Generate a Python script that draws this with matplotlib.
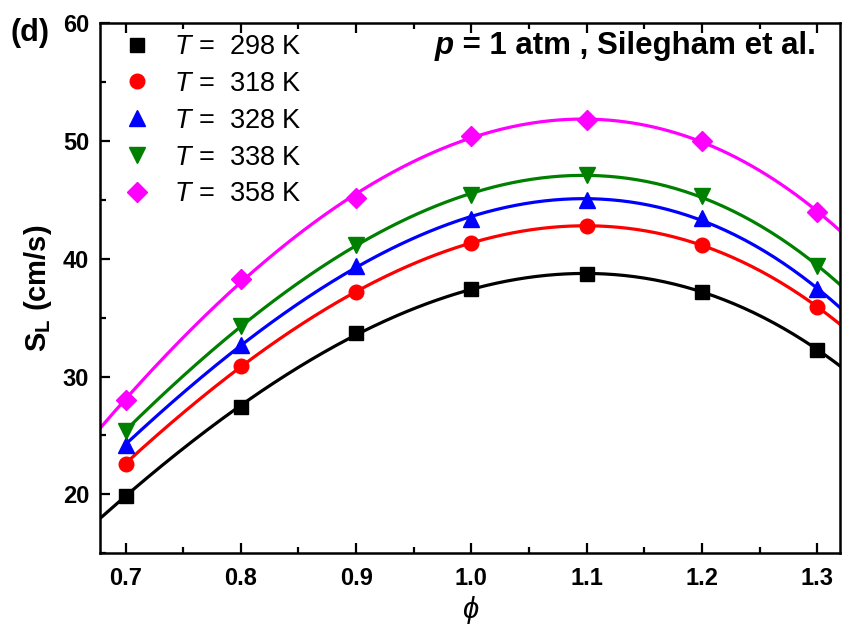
import numpy as np
import matplotlib

matplotlib.use("Agg")
import matplotlib.pyplot as plt
from matplotlib.ticker import MultipleLocator

plt.rcParams["font.family"] = ["Liberation Sans", "DejaVu Sans"]
plt.rcParams["mathtext.fontset"] = "custom"
plt.rcParams["mathtext.rm"] = "Liberation Sans"
plt.rcParams["mathtext.it"] = "Liberation Sans:italic"
plt.rcParams["mathtext.bf"] = "Liberation Sans:bold"

phi = [0.7, 0.8, 0.9, 1.0, 1.1, 1.2, 1.3]
temps = [298, 318, 328, 338, 358]
sl_298 = [19.9, 27.4, 33.7, 37.4, 38.7, 37.2, 32.3]
sl_318 = [22.6, 30.9, 37.2, 41.3, 42.8, 41.2, 35.9]
sl_328 = [24.2, 32.7, 39.4, 43.4, 45.0, 43.5, 37.4]
sl_338 = [25.4, 34.3, 41.2, 45.4, 47.1, 45.3, 39.4]
sl_358 = [28.0, 38.3, 45.2, 50.4, 51.8, 50.0, 44.0]
series = [sl_298, sl_318, sl_328, sl_338, sl_358]
# left end of each fitted line (some fits start at the first point)
fit_start = [0.678, 0.7, 0.7, 0.7, 0.678]

colors = ["black", "#ff0000", "#0000ff", "#008000", "#ff00ff"]
markers = ["s", "o", "^", "v", "D"]
msizes = [9.5, 10.5, 11.5, 11.5, 10.5]

xmin, xmax = 0.678, 1.32

fig = plt.figure(figsize=(8.42, 6.28), dpi=100)
ax = fig.add_axes([0.119, 0.119, 0.879, 0.844])

for t, vals, x0, c, m, ms in zip(temps, series, fit_start, colors, markers, msizes):
    coef = np.polyfit(phi, vals, 3)
    x_fit = np.linspace(x0, xmax, 300)
    ax.plot(x_fit, np.polyval(coef, x_fit), color=c, lw=2.3, zorder=2)
    ax.plot(phi, vals, ls="none", marker=m, ms=ms, color=c, mec=c,
            label=f"$T$ =  {t} K", zorder=3)

ax.set_xlim(xmin, xmax)
ax.set_ylim(15, 60)
ax.xaxis.set_minor_locator(MultipleLocator(0.05))
ax.yaxis.set_minor_locator(MultipleLocator(5))
ax.set_yticks([20, 30, 40, 50, 60])
ax.set_xticks(phi)
ax.set_xticklabels(["0.7", "0.8", "0.9", "1.0", "1.1", "1.2", "1.3"])

ax.tick_params(which="both", direction="in", top=True, right=False, width=1.6)
ax.tick_params(which="major", length=7, labelsize=17)
ax.tick_params(axis="x", which="major", pad=10)
ax.tick_params(axis="y", which="major", pad=8)
ax.tick_params(which="minor", length=4)
for lab in ax.get_xticklabels() + ax.get_yticklabels():
    lab.set_fontweight("bold")
for sp in ax.spines.values():
    sp.set_linewidth(1.8)

ax.set_xlabel("ϕ", fontsize=21, fontstyle="italic", labelpad=4)
ax.set_ylabel(r"$\mathbf{S_L}$ (cm/s)", fontsize=21, fontweight="bold", labelpad=6)

ax.legend(loc="upper left", frameon=False, fontsize=19.5, handletextpad=0.75,
          labelspacing=0.40, borderaxespad=0.0, handlelength=1.2,
          bbox_to_anchor=(0.0135, 1.0))

fig.text(0.013, 0.947, "(d)", fontsize=22, fontweight="bold", ha="left", va="center")

rest = fig.text(0.969, 0.914, " = 1 atm , Silegham et al.", fontsize=22.5,
                fontweight="bold", ha="right", va="baseline")
ax.annotate("p", xy=(0.0, 0.0), xycoords=rest, fontsize=22.5,
            fontweight="bold", fontstyle="italic", ha="right", va="bottom")

fig.savefig("out.png", dpi=100)
